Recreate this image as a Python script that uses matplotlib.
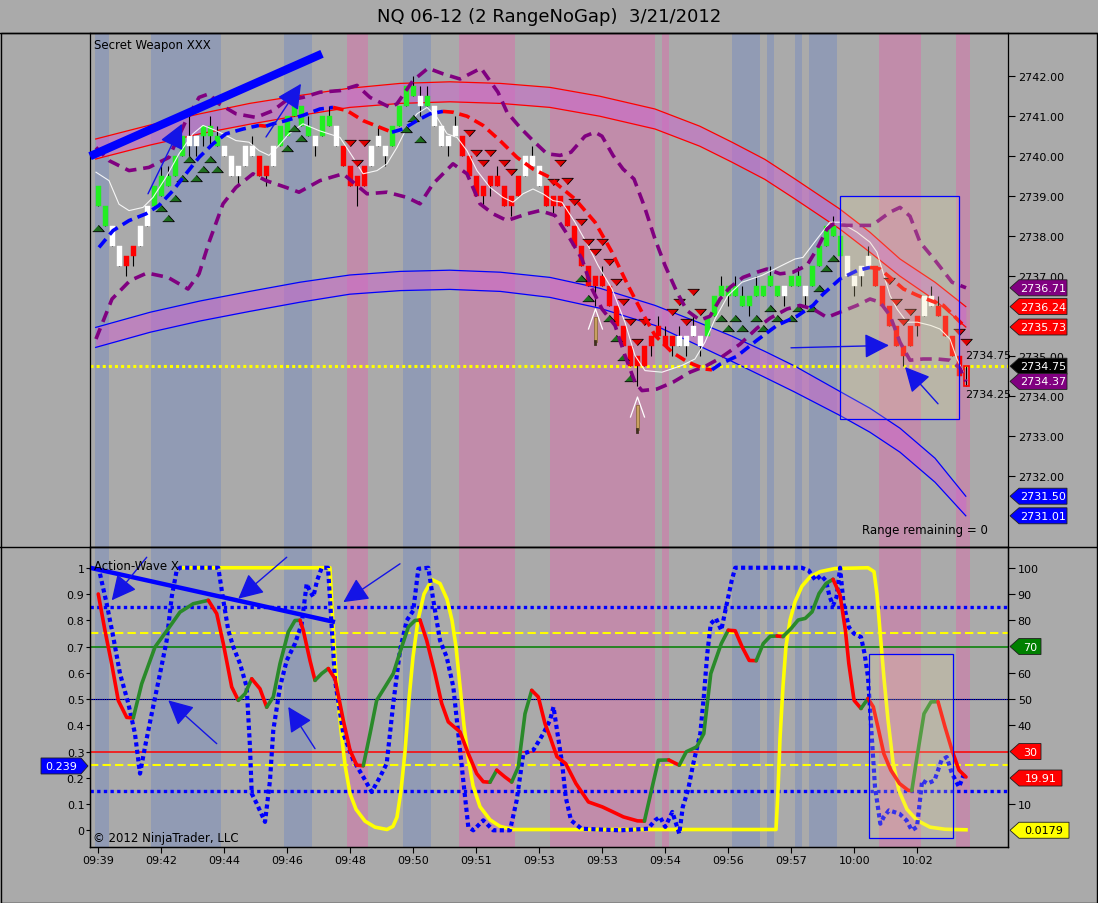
import numpy as np
import matplotlib
matplotlib.use('Agg')
import matplotlib.pyplot as plt
from matplotlib.patches import Polygon, Rectangle
from matplotlib.lines import Line2D

# ---------------- DATA ----------------
title = "NQ 06-12 (2 RangeNoGap)  3/21/2012"

body_lo = [2738.75,2738.25,2737.75,2737.25,2737.25,2737.5,2737.75,2738.25,2738.75,2739.0,
           2739.25,2739.5,2740.0,2740.25,2740.25,2740.5,2740.5,2740.25,2740.0,2739.5,
           2739.5,2739.75,2740.0,2739.5,2739.5,2739.75,2740.25,2740.5,2741.0,2740.75,
           2740.5,2740.25,2740.5,2740.75,2740.25,2739.75,2739.25,2739.25,2739.25,2739.75,
           2740.25,2740.0,2740.25,2740.75,2741.25,2741.5,2741.25,2741.25,2740.75,2740.25,
           2740.25,2740.5,2740.0,2739.5,2739.0,2739.0,2739.25,2739.25,2738.75,2738.75,
           2739.0,2739.5,2739.75,2739.25,2738.75,2738.75,2738.75,2738.25,2737.75,2737.25,
           2736.75,2736.75,2736.75,2736.25,2735.75,2735.25,2734.75,2734.75,2734.75,2735.25,
           2735.5,2735.25,2735.25,2735.25,2735.25,2735.5,2735.25,2735.5,2736.0,2736.5,
           2736.5,2736.5,2736.25,2736.25,2736.5,2736.5,2736.75,2736.5,2736.5,2736.75,
           2736.75,2736.5,2736.75,2737.25,2737.75,2738.0,2737.5,2737.0,2736.75,2737.0,
           2737.25,2736.75,2736.25,2735.75,2735.25,2735.0,2735.25,2735.75,2736.0,2736.25,
           2736.0,2735.5,2735.0,2734.5,2734.25]
body_hi = [2739.25,2738.75,2738.25,2737.75,2737.5,2737.75,2738.25,2738.75,2739.25,2739.5,
           2739.5,2740.0,2740.5,2740.5,2740.5,2740.75,2740.75,2740.5,2740.25,2740.0,
           2739.75,2740.25,2740.25,2740.0,2739.75,2740.25,2740.75,2741.0,2741.25,2741.25,
           2740.75,2740.5,2741.0,2741.0,2740.75,2740.25,2739.75,2739.5,2739.75,2740.25,
           2740.5,2740.25,2740.75,2741.25,2741.75,2741.75,2741.5,2741.5,2741.25,2740.75,
           2740.5,2740.75,2740.5,2740.0,2739.5,2739.25,2739.5,2739.5,2739.25,2739.0,
           2739.5,2740.0,2740.0,2739.75,2739.25,2739.0,2739.0,2738.75,2738.25,2737.75,
           2737.25,2737.0,2737.0,2736.75,2736.25,2735.75,2735.25,2735.0,2735.25,2735.5,
           2735.75,2735.5,2735.5,2735.5,2735.5,2735.75,2735.5,2736.0,2736.5,2736.75,
           2736.75,2736.75,2736.5,2736.5,2736.75,2736.75,2737.0,2736.75,2736.75,2737.0,
           2737.0,2736.75,2737.25,2737.75,2738.25,2738.25,2738.0,2737.5,2737.0,2737.25,
           2737.5,2737.25,2736.75,2736.25,2735.75,2735.25,2735.75,2736.0,2736.5,2736.5,
           2736.25,2736.0,2735.5,2735.0,2734.75]
bar_low = [2738.75,2738.25,2737.75,2737.25,2737.0,2737.25,2737.75,2738.25,2738.75,2739.0,
           2739.25,2739.5,2740.0,2740.0,2740.0,2740.25,2740.25,2740.25,2740.0,2739.5,
           2739.25,2739.75,2740.0,2739.5,2739.25,2739.75,2740.25,2740.5,2741.0,2740.75,
           2740.5,2740.0,2740.5,2740.75,2740.25,2739.75,2739.25,2738.75,2739.25,2739.75,
           2740.25,2739.75,2740.25,2740.75,2741.25,2741.5,2741.0,2741.25,2740.75,2740.25,
           2740.0,2740.5,2740.0,2739.5,2739.0,2738.75,2739.0,2739.25,2738.75,2738.5,
           2739.0,2739.5,2739.75,2739.25,2738.75,2738.5,2738.75,2738.25,2737.75,2737.25,
           2736.75,2736.25,2736.75,2736.25,2735.75,2735.25,2734.75,2734.25,2734.75,2735.0,
           2735.5,2735.25,2735.0,2735.25,2735.0,2735.5,2735.0,2735.5,2736.0,2736.5,
           2736.25,2736.5,2736.25,2736.0,2736.5,2736.5,2736.75,2736.5,2736.25,2736.75,
           2736.75,2736.25,2736.75,2737.25,2737.75,2738.0,2737.5,2737.0,2736.5,2736.75,
           2737.25,2736.75,2736.25,2735.75,2735.25,2734.75,2735.25,2735.5,2736.0,2736.25,
           2736.0,2735.5,2735.0,2734.5,2734.25]
bar_high = [2739.25,2738.75,2738.25,2737.75,2737.5,2737.75,2738.25,2738.75,2739.25,2739.75,
            2739.75,2740.0,2740.5,2741.0,2740.5,2740.75,2741.0,2740.75,2740.25,2740.0,
            2739.75,2740.25,2740.5,2740.0,2739.75,2740.25,2740.75,2741.0,2741.5,2741.25,
            2741.0,2740.5,2741.0,2741.25,2740.75,2740.25,2739.75,2739.5,2739.75,2740.25,
            2740.75,2740.25,2740.75,2741.25,2741.75,2742.0,2741.75,2741.75,2741.25,2740.75,
            2740.5,2741.0,2740.5,2740.0,2739.5,2739.25,2739.5,2739.75,2739.25,2739.0,
            2739.5,2740.0,2740.25,2739.75,2739.25,2739.0,2739.0,2738.75,2738.25,2737.75,
            2737.25,2737.0,2737.25,2736.75,2736.25,2735.75,2735.25,2735.0,2735.25,2735.5,
            2736.0,2735.75,2735.5,2735.75,2735.5,2736.0,2735.5,2736.0,2736.5,2737.0,
            2736.75,2737.0,2736.75,2736.5,2737.0,2736.75,2737.25,2736.75,2736.75,2737.0,
            2737.25,2736.75,2737.25,2737.75,2738.25,2738.5,2738.0,2737.5,2737.0,2737.25,
            2737.75,2737.25,2736.75,2736.25,2735.75,2735.25,2735.75,2736.0,2736.5,2736.75,
            2736.5,2736.0,2735.5,2735.0,2734.75]
bar_kind = ("GGWWRRWWGG" "GGGWWGGGWW" "WWWRRWGGGG" "GWGGWRRRRW" "WWGGGGWGWW"
            "WWRRRRRRRR" "RWWWRRRRRR" "RRRRRRRRRR" "RRRWWWWGGG" "GGGGGGGGWG"
            "GWGGGGGWWW" "WRRRRRRRWW" "RRRRH")

up_tri_idx = [0,9,10,11,12,13,14,15,16,17,27,28,29,44,45,46,69,70,73,74,75,76,
              89,90,91,92,94,95,96,97,99,100,102,103,104,105]
up_tri_px = [2738.21,2738.71,2738.46,2738.96,2739.46,2739.93,2739.46,2739.68,2739.93,2739.68,
             2740.21,2740.71,2740.46,2740.68,2740.96,2740.43,2736.96,2736.46,2735.96,2735.46,
             2734.97,2734.46,2735.96,2735.71,2735.96,2735.71,2735.96,2735.71,2736.21,2735.96,
             2735.96,2736.2,2736.2,2736.7,2737.2,2737.45]
dn_tri_idx = [36,37,38,53,54,55,56,58,59,65,66,67,68,69,70,71,72,73,74,75,76,77,78,
              82,83,84,85,86,113,114,115,116,123,124]
dn_tri_px = [2740.32,2739.82,2740.32,2740.57,2740.07,2739.82,2740.07,2739.82,2739.6,
             2739.35,2739.82,2739.37,2738.85,2738.35,2737.85,2737.6,2737.85,2737.35,2736.85,
             2736.35,2735.85,2735.35,2735.85,2736.1,2736.35,2735.85,2736.6,2736.1,
             2736.87,2736.35,2735.85,2736.1,2735.6,2735.35]

signal_idx = [71, 77]
signal_top = [2736.18, 2733.98]

band_x = [-0.4,7.4,14.5,21.6,28.8,35.9,43.1,50.2,57.4,64.5,71.6,79.5,85.9,90.5,95.2,99.5,
          105.9,110.2,114.5,119.5,123.9]
red_upper = [2740.43,2740.78,2741.06,2741.32,2741.52,2741.70,2741.82,2741.86,2741.82,2741.72,
             2741.50,2741.18,2740.75,2740.35,2739.92,2739.43,2738.68,2738.10,2737.43,2736.85,2736.24]
red_lower = [2739.93,2740.28,2740.56,2740.80,2741.02,2741.22,2741.32,2741.36,2741.32,2741.22,
             2741.00,2740.68,2740.25,2739.85,2739.42,2738.93,2738.18,2737.60,2737.00,2736.40,2735.73]
blue_upper = [2735.72,2736.10,2736.38,2736.62,2736.85,2737.03,2737.12,2737.15,2737.10,2736.97,
              2736.70,2736.27,2735.83,2735.50,2735.12,2734.75,2734.12,2733.70,2733.20,2732.45,2731.50]
blue_lower = [2735.22,2735.60,2735.88,2736.12,2736.35,2736.55,2736.64,2736.67,2736.62,2736.47,
              2736.20,2735.77,2735.25,2734.87,2734.47,2734.10,2733.52,2733.10,2732.60,2731.85,2731.01]

env_up_x = [-0.36,1.5,4.36,7.21,10.07,12.5,14.36,15.79,17.21,19.64,22.5,24.93,26.79,29.21,31.64,
            34.5,36.93,38.79,41.64,42.64,44.93,47.07,49.21,51.64,54.64,57.07,58.36,60.21,62.07,
            64.07,65.93,67.5,69.5,70.93,71.93,73.5,74.93,76.5,77.93,79.5,80.93,82.64,84.07,85.93,
            87.36,88.79,90.21,92.07,94.07,95.5,97.36,99.21,101.21,102.64,104.07,104.93,106.93,
            110.5,113.07,114.5,115.93,117.36,119.36,121.93,123.93]
env_up = [2740.22,2739.89,2739.64,2739.72,2739.97,2740.89,2741.47,2741.56,2741.31,2741.06,
          2740.97,2741.14,2741.39,2741.47,2741.6,2741.64,2741.77,2741.47,2741.22,2741.31,
          2741.89,2742.2,2742.06,2741.93,2742.2,2741.6,2741.1,2740.72,2740.39,2740.06,
          2740.02,2740.1,2740.5,2740.6,2740.5,2740.02,2739.68,2739.43,2738.77,2737.93,
          2737.27,2736.6,2736.14,2735.9,2736.0,2736.43,2736.72,2736.97,2737.1,2737.18,
          2737.06,2737.1,2737.27,2737.68,2738.18,2738.3,2738.27,2738.27,2738.6,2738.72,
          2738.5,2737.85,2737.43,2736.85,2736.71]
env_dn_x = [-0.36,1.93,4.5,6.93,9.93,12.79,14.36,15.79,17.79,19.64,22.07,23.93,26.79,28.64,
            31.64,34.93,38.36,41.21,44.07,45.93,47.79,50.64,52.64,54.5,56.36,58.36,61.21,63.07,
            65.21,67.07,69.07,70.5,71.93,73.79,75.21,76.64,77.64,79.79,82.07,84.5,86.93,88.79,
            91.64,94.07,95.93,98.36,100.21,102.07,104.07,105.93,108.36,110.21,111.64,113.07,
            114.5,115.93,117.79,119.79,121.64,123.07,123.93]
env_dn = [2735.43,2736.43,2736.89,2737.08,2736.97,2736.68,2737.06,2737.85,2738.81,2739.22,
          2739.56,2739.39,2739.22,2739.1,2739.39,2739.56,2739.06,2739.1,2738.97,2738.81,
          2739.31,2739.81,2739.56,2738.81,2738.56,2738.39,2738.56,2738.64,2738.52,2738.02,
          2737.43,2736.68,2736.18,2735.77,2735.02,2734.35,2734.14,2734.18,2734.35,2734.6,
          2734.77,2734.95,2735.3,2735.7,2735.95,2736.18,2736.27,2736.18,2735.97,2736.1,
          2736.27,2736.43,2736.35,2736.02,2735.35,2734.9,2734.93,2734.93,2734.9,2734.7,2734.37]

ma_x = [0.07,2.07,4.36,6.79,8.64,10.64,12.5,14.36,16.36,18.21,20.64,22.93,23.93,24.93,26.79,
        29.21,31.64,33.5,35.5,37.79,40.21,41.93,43.5,45.5,47.36,49.21,50.64,52.64,54.93,57.36,
        59.79,62.07,64.5,65.5,68.07,70.93,73.36,75.64,77.64,79.5,81.93,84.21,86.64,87.64,88.79,
        91.21,94.07,96.93,99.79,102.07,103.5,105.93,108.36,110.21,111.64,113.07,115.0,117.0,
        118.86,120.71,122.14,123.57]
ma_px = [2737.72,2738.14,2738.39,2738.56,2738.77,2739.14,2739.56,2739.97,2740.31,2740.56,
         2740.68,2740.77,2740.75,2740.81,2740.89,2741.02,2741.18,2741.22,2741.14,2740.89,
         2740.72,2740.6,2740.68,2740.89,2741.06,2741.12,2741.1,2741.0,2740.77,2740.39,
         2739.97,2739.68,2739.47,2739.3,2738.93,2738.35,2737.6,2736.77,2736.1,2735.52,
         2735.1,2734.85,2734.68,2734.66,2734.8,2735.0,2735.4,2735.77,2736.0,2736.27,
         2736.55,2736.93,2737.14,2737.22,2737.18,2736.97,2736.68,2736.52,2736.39,2736.27,
         2736.02,2735.77]

fast_x = [-0.36,1.5,2.93,4.36,6.36,7.79,9.64,11.5,13.5,14.93,16.79,18.21,19.64,21.5,22.93,
          24.36,25.79,27.21,29.21,31.5,34.5,36.36,37.79,39.79,41.21,42.64,44.07,45.5,46.93,
          48.36,49.79,51.21,52.64,54.07,55.93,57.79,59.21,60.64,62.07,63.5,64.93,66.21,68.07,
          69.93,71.36,73.36,75.21,76.64,78.07,80.5,83.36,85.21,86.64,88.07,89.93,91.93,94.79,
          97.64,99.5,100.64,102.64,104.5,105.93,108.36,110.21,111.21,112.07,113.07,114.07,
          115.5,117.0,118.86,120.21,121.64,122.64,123.57]
fast_px = [2739.6,2739.39,2738.8,2738.64,2738.72,2738.97,2739.47,2740.06,2740.56,2740.77,
           2740.64,2740.52,2740.39,2740.35,2740.14,2740.02,2740.27,2740.56,2740.81,2740.64,
           2740.47,2739.97,2739.56,2739.64,2739.81,2740.22,2740.72,2741.06,2741.22,2740.97,
           2740.56,2740.47,2740.14,2739.64,2739.22,2738.97,2738.85,2739.06,2739.18,2739.06,
           2738.89,2738.85,2738.35,2737.77,2737.27,2736.68,2735.85,2735.02,2734.64,2734.6,
           2734.77,2734.93,2735.35,2735.93,2736.52,2736.85,2737.02,2737.27,2737.43,2737.47,
           2737.93,2738.35,2738.35,2738.1,2737.85,2737.6,2737.1,2736.52,2736.18,2735.85,
           2735.85,2735.77,2735.68,2735.43,2734.93,2734.6]

last_price = 2734.75
blue_bands = [(-0.5,1.5),(7.5,17.5),(26.5,30.5),(43.5,47.5),(90.5,94.5),(95.5,96.5),
              (99.5,100.5),(101.5,105.5)]
pink_bands = [(35.5,38.5),(51.5,59.5),(64.5,79.5),(80.5,81.5),(111.5,117.5),(122.5,124.5)]

# oscillator panel
yel_x = [11.64,33.07,33.36,33.79,34.21,34.64,35.21,35.93,36.79,38.07,39.5,41.21,42.07,42.64,
         43.21,43.79,44.36,44.93,45.64,46.5,47.64,48.79,49.79,50.5,51.07,51.64,52.21,52.79,
         53.5,54.5,55.93,57.36,59.21,96.79,97.07,97.36,97.79,98.21,98.79,99.5,100.5,101.64,
         103.07,105.21,109.93,110.79,111.21,111.64,112.21,112.79,113.5,114.36,115.5,116.93,
         118.79,120.93,123.93]
yel_v = [100,100,85,65,50,38,25,14,8,3.5,1.2,0.3,1.5,5,15,30,50,66,80,90,95.5,94,88,80,70,
         55,40,28,17,9,4,1.5,0.3,0.3,15,35,55,70,80,87,93,96.5,98.5,99.7,100,98.5,90,76,58,42,
         26,15,8,3.8,1.2,0.4,0.2]
osc_x = [-0.03,0.93,1.89,2.83,4.03,4.97,6.17,8.07,9.97,11.64,13.54,15.69,16.89,17.83,19.03,
         19.97,20.93,21.89,23.07,24.03,24.97,25.93,27.11,28.07,28.79,29.26,30.21,30.93,31.89,
         32.83,33.79,34.97,35.93,36.89,37.83,38.79,39.74,40.93,42.11,43.31,44.26,45.21,45.93,
         46.89,48.07,49.03,49.97,51.64,52.83,54.03,54.97,55.93,56.89,58.07,59.03,59.97,60.93,
         61.89,62.83,63.79,64.5,65.5,66.74,68.21,69.99,71.99,73.5,74.99,76.99,77.99,78.99,
         79.99,81.47,82.21,82.97,83.97,85.47,86.47,87.47,88.97,89.97,90.96,91.96,92.96,93.96,
         94.96,95.96,96.93,97.79,98.96,99.96,100.96,101.94,102.94,103.94,104.94,105.94,106.7,
         107.19,107.94,108.93,109.93,110.69,111.44,112.19,113.19,114.43,115.69,116.19,116.93,
         117.93,118.93,119.93,120.93,121.93,122.93,123.93]
osc_v = [90,76,63.3,49.4,43,42.8,55.8,69.8,76.8,83.1,86.3,87.6,82.5,71.1,54.6,49.5,52,57.7,
         53.9,46.9,50.8,63.5,75.5,79.9,80.0,76.1,64.7,57.1,59.7,61.6,57.7,41.9,30.5,24.8,24.6,
         36.8,49.5,54.6,59.7,69.8,77.4,79.9,80.1,72.3,59.7,48.3,41.3,37.5,29.2,21.6,18.5,18.3,
         22.9,20.3,18.4,24.1,44.4,53.3,50.8,40.6,35.6,28,25.4,17.8,10.8,8.9,7,5.1,3.6,3.5,15.2,
         26.7,26.8,25.8,24.8,29.9,31.8,36.8,59.7,71.1,76.2,76.0,69.8,64.7,64.6,71.1,73.9,74.0,
         73.8,76.9,80.1,80.7,83.2,90.2,94,95.6,89.6,76.2,63.5,49.5,46.4,50.2,47,38.2,29.2,22.9,
         17.8,15.2,15.1,27.9,44.4,48.9,49.0,39.4,30.5,22.9,20.3]
stoch_x = [0.21,1.17,2.11,3.07,4.26,5.21,5.93,6.64,7.6,8.79,9.74,10.46,11.17,11.64,17.11,
           17.83,18.54,19.26,20.21,21.17,21.64,21.89,22.6,23.79,24.5,24.97,25.93,26.89,28.07,
           29.03,29.74,30.21,30.69,31.21,31.89,32.79,33.79,34.97,36.4,37.83,39.03,40.21,41.17,
           42.11,43.07,44.03,44.97,45.69,47.11,47.83,48.79,49.74,50.69,51.4,52.11,52.83,53.54,
           54.97,56.4,58.79,59.74,60.69,62.11,63.54,64.5,65.0,65.5,66.24,66.74,67.5,69.0,74.5,
           78.5,79.5,80.21,80.97,81.97,82.97,83.47,84.21,84.97,85.97,86.47,86.97,87.47,88.21,
           88.97,89.71,90.47,90.96,100.46,101.44,102.44,103.21,103.93,104.44,104.94,105.44,
           105.94,106.44,107.19,107.94,108.93,109.44,109.93,110.44,110.93,111.69,112.19,112.93,
           114.43,115.43,116.19,116.93,117.67,118.43,119.43,120.43,121.17,121.93,122.93,123.67]
stoch_v = [97.7,86.3,73.6,59.7,48.3,36.8,21.6,31.7,44.4,59.7,72.3,88.9,99,100,100,87.6,76.2,
           69.8,63.5,54.6,31.7,14,10.2,3.2,19,38.1,54.6,64.7,71.1,78.7,93.9,91,88.9,95,100,100,
           57,36.8,26.7,20.3,14.6,20.3,25.4,48.3,68.5,79.9,83.7,99.6,100,87.6,72.3,66,54.6,36.8,
           19,1.3,0,3.8,0,0,11.4,29.2,30.5,36.8,41.9,47,38.1,25.4,12.7,3.8,0.6,0,0.6,3.8,5.1,1.3,
           7,-1.3,8.9,15.2,25.4,36.8,50.8,67.3,78.7,80.7,76.2,85.7,95.2,100,100,99,95.2,97.1,95,
           89,85.7,88.9,100,86.3,77.4,74.9,73.6,67.3,58.4,36.8,16.5,2.5,5.1,7.6,6.3,3.8,0,1.3,
           19,17.8,19,26.7,27.9,21.6,16.5,21.6]

time_tick_idx = [0,9,18,27,36,45,54,63,72,81,90,99,108,117]
time_labels = ["09:39","09:42","09:44","09:46","09:48","09:50","09:51","09:53","09:53",
               "09:54","09:56","09:57","10:00","10:02"]
price_ticks = [2732, 2733, 2734, 2735, 2737, 2738, 2739, 2740, 2741, 2742]
osc_right_ticks = [10, 40, 50, 60, 80, 90, 100]
osc_left_ticks = [0, 10, 20, 30, 40, 50, 60, 70, 80, 90, 100]

price_tags = [(2736.71,'#800080','white'),(2736.24,'#ff0000','white'),(2735.73,'#ff0000','white'),
              (2734.75,'#000000','white'),(2734.37,'#800080','white'),(2731.50,'#0000ff','white'),
              (2731.01,'#0000ff','white')]
osc_tags = [(70,'70','#008000','white'),(30,'30','#ff0000','white'),(19.91,'19.91','#ff0000','white'),
            (0.0179,'0.0179','#ffff00','black')]

# drawn annotations (bar position, value)
top_trend = ([-1.21, 31.93], [2740.0, 2742.56])
top_arrows = [((7.07,2739.06),(11.93,2740.81)),((23.93,2740.48),(28.93,2741.81)),
              ((98.93,2735.21),(112.93,2735.27)),((119.93,2733.81),(115.21,2734.73))]
low_trend = ([-1.21, 33.79], [100, 79.3])
low_arrows = [((6.89,104),(1.89,87.6)),((26.89,104),(19.97,88.2)),((43.07,101.5),(34.97,86.9)),
              ((16.89,33),(9.97,49.5)),((30.93,31.1),(27.11,47))]
top_box = (105.93, 122.93, 2733.42, 2739.0)
low_box = (110.07, 122.01, -2.9, 67.1)

# ---------------- FIGURE ----------------
W, H = 1098, 904
fig = plt.figure(figsize=(W/100, H/100), dpi=100)
BG = '#aaaaaa'
fig.patch.set_facecolor(BG)

def px_box(l, t, r, b):
    return [l/W, 1-b/H, (r-l)/W, (b-t)/H]

ax = fig.add_axes(px_box(90, 34, 1008, 548))
ax2 = fig.add_axes(px_box(90, 548, 1008, 848))
XL = (-1.214, 129.93)
for a in (ax, ax2):
    a.set_facecolor(BG)
    a.set_xlim(*XL)
    for s in a.spines.values():
        s.set_linewidth(0.9)
        s.set_color('black')
ax.set_ylim(2730.23, 2743.08)
ax2.set_ylim(-6.36, 107.9)

for a in (ax, ax2):
    for (s, e) in blue_bands:
        a.axvspan(s, e, color='#919bb4', lw=0, zorder=0.5)
    for (s, e) in pink_bands:
        a.axvspan(s, e, color='#c18caa', lw=0, zorder=0.5)

# channels
bx = np.array(band_x)
ax.fill_between(bx, red_lower, red_upper, color='#cc66cc', alpha=0.55, lw=0, zorder=1)
ax.fill_between(bx, blue_lower, blue_upper, color='#cc66cc', alpha=0.55, lw=0, zorder=1)
ax.plot(bx, red_upper, color='#ff0000', lw=0.9, zorder=1.5)
ax.plot(bx, red_lower, color='#ff0000', lw=0.9, zorder=1.5)
ax.plot(bx, blue_upper, color='#0000ff', lw=0.9, zorder=1.5)
ax.plot(bx, blue_lower, color='#0000ff', lw=0.9, zorder=1.5)

ax.axhline(last_price, color='#ffff00', lw=2.2, ls=(0, (1, 1)), zorder=2)

# candles
idx = np.arange(len(body_lo))
ax.vlines(idx, bar_low, bar_high, color='black', lw=0.8, zorder=3)
cmap = {'G': '#22ee22', 'W': '#ffffff', 'R': '#ff0000'}
for i in idx:
    k = bar_kind[i]
    lo, hi = body_lo[i], body_hi[i]
    if k == 'H':
        ax.add_patch(Rectangle((i-0.35, lo), 0.7, hi-lo, facecolor='none', edgecolor='#ff0000',
                               lw=1.2, zorder=3.2))
    else:
        ax.add_patch(Rectangle((i-0.35, lo), 0.7, hi-lo, facecolor=cmap[k], edgecolor=cmap[k],
                               lw=0.3, zorder=3.2))

ax.plot(fast_x, fast_px, color='white', lw=0.8, alpha=0.9, zorder=3.5)

up_marker = [(-1, -0.55), (1, -0.55), (0, 0.55)]
dn_marker = [(-1, 0.55), (1, 0.55), (0, -0.55)]
ax.scatter(up_tri_idx, up_tri_px, marker=up_marker, s=70, facecolor='#1e6e1e',
           edgecolor='black', lw=0.6, zorder=4)
ax.scatter(dn_tri_idx, dn_tri_px, marker=dn_marker, s=70, facecolor='#dd0000',
           edgecolor='black', lw=0.6, zorder=4)

# signal pencils
for si, st in zip(signal_idx, signal_top):
    ax.plot([si-1.0, si, si+1.0], [st-0.5, st, st-0.5], color='white', lw=0.9, zorder=4.2)
    ax.add_patch(Rectangle((si-0.22, st-0.82), 0.44, 0.62, facecolor='#c8a060',
                           edgecolor='#806030', lw=0.5, zorder=4.3))
    ax.plot([si, si], [st-0.88, st-0.8], color='#403020', lw=2, zorder=4.3)

ax.plot(env_up_x, env_up, color='#800080', lw=2.6, ls=(0, (3.2, 1.9)), zorder=4.5)
ax.plot(env_dn_x, env_dn, color='#800080', lw=2.6, ls=(0, (3.2, 1.9)), zorder=4.5)

def plot_runs(a, xs, ys, c_up, c_dn, **kw):
    xs = np.asarray(xs); ys = np.asarray(ys)
    cols = [c_up if ys[k+1] >= ys[k] else c_dn for k in range(len(ys)-1)]
    s = 0
    for k in range(1, len(cols)+1):
        if k == len(cols) or cols[k] != cols[s]:
            a.plot(xs[s:k+1], ys[s:k+1], color=cols[s], **kw)
            s = k

plot_runs(ax, ma_x, ma_px, '#0000ff', '#ff0000', lw=2.6, ls=(0, (3, 1.6)), zorder=5)

x0, x1, y0, y1 = top_box
ax.add_patch(Rectangle((x0, y0), x1-x0, y1-y0, facecolor='#f0e0a0', alpha=0.22,
                       edgecolor='none', zorder=6))
ax.add_patch(Rectangle((x0, y0), x1-x0, y1-y0, facecolor='none', edgecolor='#0000ff',
                       lw=0.9, zorder=6.1))

ax.plot(top_trend[0], top_trend[1], color='#0000ff', lw=6, solid_capstyle='butt', zorder=7,
        clip_on=False)
arrow_kw = dict(arrowstyle='-|>,head_length=0.9,head_width=0.45', color='#1414e6', lw=1.0,
                mutation_scale=17, shrinkA=0, shrinkB=0)
for tail, tip in top_arrows:
    ax.annotate('', xy=tip, xytext=tail, arrowprops=arrow_kw, zorder=7)

ax.text(0.004, 0.977, "Secret Weapon XXX", transform=ax.transAxes, fontsize=8.5,
        ha='left', va='center', zorder=8)
ax.text(0.841, 0.035, "Range remaining = 0", transform=ax.transAxes, fontsize=8.5,
        ha='left', va='center', zorder=8)
ax.text(123.8, 2735.02, "2734.75", fontsize=8, ha='left', va='center', clip_on=False, zorder=8)
ax.text(123.8, 2734.06, "2734.25", fontsize=8, ha='left', va='center', clip_on=False, zorder=8)

ax.set_xticks([])
ax.yaxis.tick_right()
ax.set_yticks(price_ticks)
ax.set_yticklabels([f"{v:.2f}" for v in price_ticks])
ax.tick_params(axis='y', length=5, width=0.8, labelsize=8, pad=2, colors='black')

# ---- oscillator panel ----
ax2.axhline(85, color='#0000ff', lw=2.4, ls=(0, (1, 1)), zorder=2)
ax2.axhline(15, color='#0000ff', lw=2.4, ls=(0, (1, 1)), zorder=2)
ax2.axhline(75, color='#ffff00', lw=1.5, ls=(0, (4, 2)), zorder=2)
ax2.axhline(25, color='#ffff00', lw=1.5, ls=(0, (4, 2)), zorder=2)
ax2.axhline(70, color='#008000', lw=1.1, zorder=2)
ax2.axhline(30, color='#ff0000', lw=1.1, zorder=2)
ax2.axhline(50, color='black', lw=0.8, zorder=2)
ax2.axhline(50, color='#0000ff', lw=0.8, ls=(0, (1, 1)), zorder=2.1)

ax2.plot(yel_x, yel_v, color='#ffff00', lw=2.6, zorder=3)
ax2.plot(stoch_x, stoch_v, color='#0000ff', lw=3, ls=(0, (1, 0.8)), zorder=3.5)
plot_runs(ax2, osc_x, osc_v, '#2a8a2a', '#ff0000', lw=2.6, zorder=4,
          solid_capstyle='round', solid_joinstyle='round')

x0, x1, y0, y1 = low_box
ax2.add_patch(Rectangle((x0, y0), x1-x0, y1-y0, facecolor='#f0e0a0', alpha=0.22,
                        edgecolor='none', zorder=6))
ax2.add_patch(Rectangle((x0, y0), x1-x0, y1-y0, facecolor='none', edgecolor='#0000ff',
                        lw=0.9, zorder=6.1))
ax2.plot(low_trend[0], low_trend[1], color='#0000ff', lw=3.2, solid_capstyle='butt', zorder=7,
         clip_on=False)
for tail, tip in low_arrows:
    ax2.annotate('', xy=tip, xytext=tail, arrowprops=arrow_kw, zorder=7,
                 annotation_clip=False)

ax2.text(0.004, 0.94, "Action-Wave X", transform=ax2.transAxes, fontsize=8.5,
         ha='left', va='center', zorder=8)
ax2.text(0.003, 0.03, "\u00a9 2012 NinjaTrader, LLC", transform=ax2.transAxes, fontsize=8.5,
         ha='left', va='center', zorder=8)

ax2.set_xticks(time_tick_idx)
ax2.set_xticklabels(time_labels)
ax2.tick_params(axis='x', length=4, width=0.8, labelsize=8, pad=2)
ax2.set_yticks(osc_left_ticks)
ax2.set_yticklabels([f"{v/100:g}" for v in osc_left_ticks])
ax2.tick_params(axis='y', length=3, width=0.8, labelsize=8, pad=1)
ax2r = ax2.twinx()
ax2r.set_ylim(ax2.get_ylim())
ax2r.set_yticks(osc_right_ticks)
ax2r.set_yticklabels([f"{v:d}" for v in osc_right_ticks])
ax2r.tick_params(axis='y', length=5, width=0.8, labelsize=8, pad=2)
for s in ax2r.spines.values():
    s.set_linewidth(0.9)

# ---- tags ----
inv = fig.transFigure.inverted()
def add_tag(a, yval, text, face, tc, w, side='right'):
    y = a.transData.transform((0, yval))[1]
    h = 8
    if side == 'right':
        xe = a.transAxes.transform((1, 0))[0]
        v = [(xe+2, y), (xe+11, y+h), (xe+11+w, y+h), (xe+11+w, y-h), (xe+11, y-h)]
        cx = xe + 11 + w/2
    else:
        xe = a.transAxes.transform((0, 0))[0]
        v = [(xe-2, y), (xe-9, y+h), (xe-9-w, y+h), (xe-9-w, y-h), (xe-9, y-h)]
        cx = xe - 9 - w/2
    fig.add_artist(Polygon(inv.transform(v), closed=True, facecolor=face, edgecolor='#202020',
                           lw=0.6, transform=fig.transFigure, zorder=10))
    fx, fy = inv.transform((cx, y))
    fig.text(fx, fy, text, color=tc, ha='center', va='center', fontsize=8, zorder=11)

for val, face, tc in price_tags:
    add_tag(ax, val, f"{val:.2f}", face, tc, 48)
for val, txt, face, tc in osc_tags:
    add_tag(ax2, val, txt, face, tc, 8 + 7*len(txt))
add_tag(ax2, 24.5, "0.239", '#0000ff', 'white', 40, side='left')

# frame lines and title
fig.add_artist(Line2D([0, 1], [1-34/H]*2, color='black', lw=1, transform=fig.transFigure))
fig.add_artist(Line2D([0, 1], [1-548/H]*2, color='black', lw=1, transform=fig.transFigure))
fig.add_artist(Rectangle((0.5/W, 1-903.5/H), 1096.5/W, 869.5/H, fill=False, edgecolor='black',
                         lw=1, transform=fig.transFigure))
fig.text(0.5, 1-17/H, title, ha='center', va='center', fontsize=13)

fig.savefig('out.png', dpi=100, facecolor=BG)
